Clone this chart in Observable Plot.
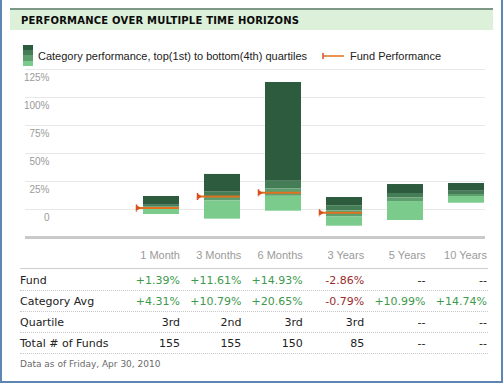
<!DOCTYPE html>
<html>
<head>
<meta charset="utf-8">
<script src="https://cdn.jsdelivr.net/npm/d3@7"></script>
<script src="https://cdn.jsdelivr.net/npm/@observablehq/plot@0.6"></script>
<style>
  html, body { margin: 0; padding: 0; background: #fff; }
  #wrap { position: relative; width: 503px; height: 383px; overflow: hidden; background: #fff; }
  #frame { position: absolute; left: 0; top: 0; width: 499px; height: 381px; border-left: 2px solid #5d86b3; border-right: 2px solid #5d86b3; border-bottom: 2px solid #5d86b3; }
  #titlebar { position: absolute; left: 10px; top: 8px; width: 472px; height: 20px; border-top: 2px solid #7d9886; background: #ddf0d9;
    font: bold 10px "DejaVu Sans", sans-serif; line-height: 21px; color: #0a0a0a; padding-left: 11px; box-sizing: content-box; letter-spacing: 0.2px; }
  .leg { position: absolute; font: 11px "Liberation Sans", Arial, sans-serif; color: #222; line-height: 14px; }
  #swatch { position: absolute; left: 23px; top: 45px; width: 10px; height: 21px; }
  #chart { position: absolute; left: 0; top: 62px; }
  .row { position: absolute; left: 20px; width: 468px; display: flex; }
  .row div { flex: 0 0 61.4px; text-align: right; padding-right: 1px; box-sizing: border-box; white-space: nowrap; }
  .row div.lab { flex: 0 0 99.6px; text-align: left; padding: 0; }
  .hdr { top: 246px; height: 23px; border-bottom: 1px solid #cfcfcf; font: 11px "Liberation Sans", Arial, sans-serif; color: #9a9a9a; line-height: 18px; box-sizing: border-box; }
  .body { height: 21px; border-bottom: 1px dotted #c8c8c8; font: 11px "DejaVu Sans", sans-serif; color: #222; line-height: 21px; box-sizing: border-box; }
  .pos { color: #3d9a4c; }
  .neg { color: #9b2b2b; }
  .na { color: #222; }
  #foot { position: absolute; left: 20px; top: 357px; font: 9px "DejaVu Sans", sans-serif; color: #6a6a6a; line-height: 14px; }
</style>
</head>
<body>
<div id="wrap">
  <div id="titlebar">PERFORMANCE OVER MULTIPLE TIME HORIZONS</div>
  <div id="swatch"></div>
  <div class="leg" style="left:38px; top:49px;">Category performance, top(1st) to bottom(4th) quartiles</div>
  <svg id="legline" style="position:absolute; left:320px; top:50px;" width="26" height="12"></svg>
  <div class="leg" style="left:350px; top:49px;">Fund Performance</div>
  <div id="chart"></div>
  <div id="table"></div>
  <div id="foot">Data as of Friday, Apr 30, 2010</div>
  <div id="frame"></div>
</div>
<script>
// ---- data ----
const periods = ["1 Month", "3 Months", "6 Months", "3 Years", "5 Years", "10 Years"];
// category quartile boundaries (%), from top of 1st quartile down to bottom of 4th
const catTop    = [11.6, 31.3, 113.4, 10.7, 22.3, 23.2];
const catBreak1 = [3.8, 15.5, 25.2, 3.4, 14.3, 16.3];
const catBreak2 = [2.1, 10.8, 18.5, -1.3, 10.3, 13.4];
const catBreak3 = [0.6, 7.6, 11.8, -6.7, 7.1, 11.6];
const catBottom = [-4.5, -8.6, -1.5, -14.9, -9.8, 5.6];
const fundPerf  = [1.39, 11.61, 14.93, -2.86, null, null];

const yTicks = [0, 25, 50, 75, 100, 125];

const rowLabels = ["Fund", "Category Avg", "Quartile", "Total # of Funds"];
const fundText  = ["+1.39%", "+11.61%", "+14.93%", "-2.86%", "--", "--"];
const catText   = ["+4.31%", "+10.79%", "+20.65%", "-0.79%", "+10.99%", "+14.74%"];
const quartText = ["3rd", "2nd", "3rd", "3rd", "--", "--"];
const totalText = ["155", "155", "150", "85", "--", "--"];

const quartileNames = ["1st", "2nd", "3rd", "4th"];
const quartileColors = ["#2c5b3d", "#457d56", "#5f9f6f", "#7acb8c"];
const fundColor = "#e0721f";
const capColor = "#d9501e";

// ---- legend swatch ----
document.getElementById("swatch").style.background =
  `linear-gradient(to bottom, ${quartileColors[0]} 0 25%, ${quartileColors[1]} 25% 50%, ${quartileColors[2]} 50% 75%, ${quartileColors[3]} 75% 100%)`;
document.getElementById("legline").innerHTML =
  `<line x1="3" x2="24" y1="6" y2="6" stroke="${fundColor}" stroke-width="1.5"/>` +
  `<line x1="3" x2="3" y1="3" y2="9" stroke="${capColor}" stroke-width="1.5"/>`;

// ---- segments ----
const bounds = [catTop, catBreak1, catBreak2, catBreak3, catBottom];
const segs = [];
periods.forEach((p, i) => {
  for (let q = 0; q < 4; q++) {
    segs.push({period: p, quartile: quartileNames[q], y1: bounds[q + 1][i], y2: bounds[q][i]});
  }
});
const fund = periods.map((p, i) => ({period: p, value: fundPerf[i]})).filter(d => d.value != null);

const capSymbol = {
  draw(ctx, size) {
    ctx.moveTo(0, -3.5); ctx.lineTo(0, 3.5);
    ctx.moveTo(0, -2); ctx.lineTo(3, 0); ctx.lineTo(0, 2); ctx.closePath();
  }
};

const chart = Plot.plot({
  width: 503,
  height: 180,
  marginLeft: 25,
  marginRight: 18,
  marginTop: 7,
  marginBottom: 5,
  x: {type: "band", domain: periods, range: [142, 485], paddingInner: 0.414, paddingOuter: 0, axis: null},
  y: {domain: [-25, 125], axis: null},
  color: {domain: quartileNames, range: quartileColors},
  marks: [
    Plot.ruleY(yTicks, {stroke: "#e8e8e8", strokeWidth: 1}),
    Plot.axisY(yTicks, {
      tickSize: 0, dx: 33, dy: 8, fill: "#9a9a9a", fontSize: 10,
      fontFamily: "Liberation Sans, Arial, sans-serif",
      tickFormat: d => d === 0 ? "0" : d + "%"
    }),
    Plot.ruleY([-25], {stroke: "#cacaca", strokeWidth: 3}),
    Plot.barY(segs, {x: "period", y1: "y1", y2: "y2", fill: "quartile"}),
    Plot.tickY(fund, {x: "period", y: "value", stroke: fundColor, strokeWidth: 2, insetLeft: -7}),
    Plot.dot(fund, {x: "period", y: "value", symbol: capSymbol, dx: -25, stroke: capColor, fill: capColor, strokeWidth: 1.5, r: 3})
  ]
});
document.getElementById("chart").appendChild(chart);

// ---- table ----
function cls(t) { return t === "--" ? "na" : t.startsWith("+") ? "pos" : t.startsWith("-") ? "neg" : ""; }
let html = `<div class="row hdr"><div class="lab"></div>${periods.map(p => `<div>${p}</div>`).join("")}</div>`;
const rows = [fundText, catText, quartText, totalText];
rows.forEach((r, k) => {
  html += `<div class="row body" style="top:${270 + k * 21}px"><div class="lab">${rowLabels[k]}</div>${r.map(t => `<div class="${cls(t)}">${t}</div>`).join("")}</div>`;
});
document.getElementById("table").innerHTML = html;
</script>
</body>
</html>
